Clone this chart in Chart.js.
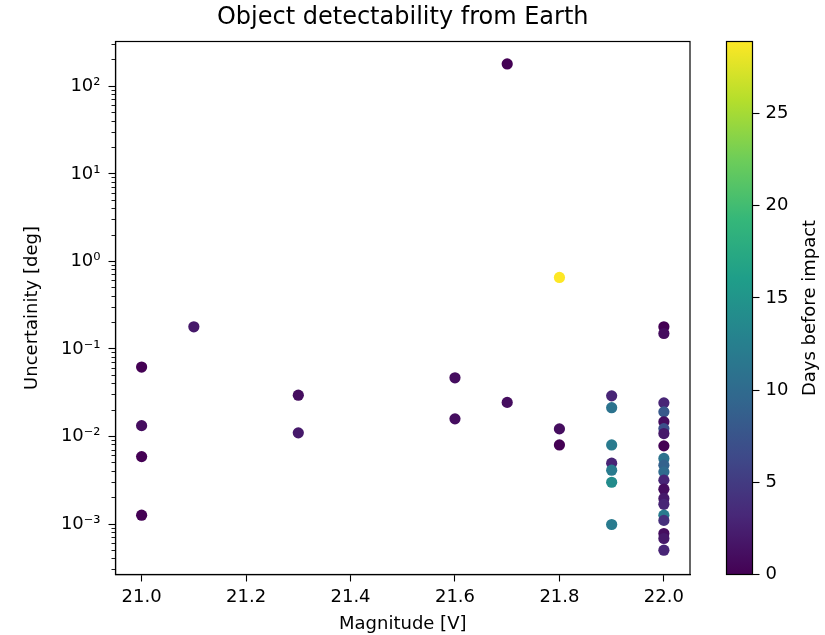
<!DOCTYPE html>
<html>
<head>
<meta charset="utf-8">
<script src="https://cdn.jsdelivr.net/npm/chart.js@4/dist/chart.umd.min.js"></script>
<style>
  body { margin: 0; background: #fff; }
  #wrap { position: relative; width: 825px; height: 635px; }
  #wrap canvas { position: absolute; top: 0; }
</style>
</head>
<body>
<div id="wrap">
  <canvas id="scatterChart" width="825" height="635" style="left:0"></canvas>
  <canvas id="colorbar" width="135" height="635" style="left:690px"></canvas>
</div>
<script>
// Données
const magnitude = [
  21.0, 21.0, 21.0, 21.0,
  21.1,
  21.3, 21.3,
  21.6, 21.6,
  21.7, 21.7,
  21.8, 21.8, 21.8,
  21.9, 21.9, 21.9, 21.9, 21.9, 21.9, 21.9,
  22.0, 22.0, 22.0, 22.0, 22.0, 22.0, 22.0, 22.0, 22.0, 22.0,
  22.0, 22.0, 22.0, 22.0, 22.0, 22.0, 22.0, 22.0, 22.0, 22.0
];
const uncertainty = [
  0.0621, 0.0133, 0.00589, 0.00126,
  0.179,
  0.0296, 0.0110,
  0.0468, 0.0159,
  180, 0.0245,
  0.656, 0.0122, 0.0080,
  0.0291, 0.0213, 0.0080, 0.00495, 0.00412, 0.00300, 0.000987,
  0.179, 0.150, 0.0242, 0.0191, 0.0147, 0.0123, 0.0108, 0.00781, 0.00561, 0.00470,
  0.00394, 0.00317, 0.00250, 0.00196, 0.00168, 0.00126, 0.00110, 0.000778, 0.000683, 0.000502
];
const daysBeforeImpact = [
  0, 1, 0, 0,
  2,
  1, 2,
  1, 1,
  0, 1,
  28.9, 1, 0,
  3, 11, 12, 3, 12, 14, 12,
  0, 1, 3, 8, 1, 7, 2, 0, 11, 9,
  10, 3, 1, 2, 3, 12, 4, 1, 2, 3
];
const xTicks = [21.0, 21.2, 21.4, 21.6, 21.8, 22.0];
const yMajorTicks = [1e-3, 1e-2, 1e-1, 1, 10, 100];
const cbarTicks = [0, 5, 10, 15, 20, 25];
const xMin = 20.95, xMax = 22.05;
const yMin = 2.65e-4, yMax = 325;

Chart.defaults.font.family = "'DejaVu Sans', sans-serif";
Chart.defaults.color = '#000';

// palette viridis
const viridis = ['#440154', '#482878', '#3e4a89', '#31688e', '#26828e',
                 '#1f9e89', '#35b779', '#6dcd59', '#b4de2c', '#fde725'];

function hexToRgb(h) {
  return [parseInt(h.slice(1, 3), 16), parseInt(h.slice(3, 5), 16), parseInt(h.slice(5, 7), 16)];
}

function viridisColor(t) {
  t = Math.max(0, Math.min(1, t));
  const pos = t * (viridis.length - 1);
  const i = Math.min(Math.floor(pos), viridis.length - 2);
  const f = pos - i;
  const a = hexToRgb(viridis[i]), b = hexToRgb(viridis[i + 1]);
  const c = a.map((v, k) => Math.round(v + (b[k] - v) * f));
  return `rgb(${c[0]}, ${c[1]}, ${c[2]})`;
}

const dayMax = Math.max(...daysBeforeImpact);
const pointColors = daysBeforeImpact.map(d => viridisColor(d / dayMax));
const points = magnitude.map((m, i) => ({ x: m, y: uncertainty[i] }));

// petites graduations du log
const yMinorTicks = [];
for (let k = -4; k <= 2; k++) {
  for (let m = 2; m <= 9; m++) {
    const v = m * Math.pow(10, k);
    if (v >= yMin && v <= yMax) yMinorTicks.push(v);
  }
}

const sup = { '-': '⁻', '0': '⁰', '1': '¹', '2': '²', '3': '³', '4': '⁴' };
function powLabel(v) {
  const e = Math.round(Math.log10(v));
  return '10' + String(e).split('').map(c => sup[c]).join('');
}

// cadre complet autour du graphe
const frame = {
  id: 'frame',
  afterDraw(chart) {
    const { ctx, chartArea: a } = chart;
    ctx.save();
    ctx.strokeStyle = '#000';
    ctx.lineWidth = 1.2;
    ctx.strokeRect(a.left, a.top, a.right - a.left, a.bottom - a.top);
    ctx.restore();
  }
};

new Chart(document.getElementById('scatterChart'), {
  type: 'scatter',
  data: {
    datasets: [{
      data: points,
      backgroundColor: pointColors,
      borderWidth: 0,
      pointRadius: 5.6,
      pointHoverRadius: 5.6
    }]
  },
  options: {
    responsive: false,
    animation: false,
    devicePixelRatio: 1,
    layout: { padding: { left: 0, top: 0, bottom: 0, right: 135 } },
    plugins: {
      legend: { display: false },
      tooltip: { enabled: false },
      title: {
        display: true,
        fullSize: false,
        text: 'Object detectability from Earth',
        color: '#000',
        font: { size: 24, weight: 'normal' },
        padding: { top: 3.6, bottom: 9.1 }
      }
    },
    scales: {
      x: {
        type: 'linear',
        min: xMin,
        max: xMax,
        afterBuildTicks: s => { s.ticks = xTicks.map(v => ({ value: v })); },
        afterFit: s => { s.height = 60.5; },
        ticks: { font: { size: 18 }, padding: 5, maxRotation: 0, callback: v => v.toFixed(1) },
        grid: { drawOnChartArea: false, tickLength: 7, color: '#000', tickWidth: 1.1 },
        border: { color: '#000', width: 1.2 },
        title: { display: true, text: 'Magnitude [V]', font: { size: 18 }, padding: { top: 0, bottom: 0 } }
      },
      y: {
        type: 'logarithmic',
        position: 'left',
        weight: 1,
        min: yMin,
        max: yMax,
        afterBuildTicks: s => { s.ticks = yMajorTicks.map(v => ({ value: v })); },
        afterFit: s => { s.width = 115.5; },
        ticks: { font: { size: 18 }, padding: 8, callback: v => powLabel(v) },
        grid: { drawOnChartArea: false, tickLength: 7, color: '#000', tickWidth: 1.1 },
        border: { color: '#000', width: 1.2 },
        title: { display: true, text: 'Uncertainity [deg]', font: { size: 18 }, padding: { top: 22, bottom: 0 } }
      },
      yMinor: {
        type: 'logarithmic',
        position: 'left',
        weight: 0,
        min: yMin,
        max: yMax,
        afterBuildTicks: s => { s.ticks = yMinorTicks.map(v => ({ value: v })); },
        afterFit: s => { s.width = 0; },
        ticks: { display: false },
        grid: { drawOnChartArea: false, tickLength: 4, color: '#000', tickWidth: 0.9 },
        border: { display: false }
      }
    }
  },
  plugins: [frame]
});

// barre de couleur
const colorbarPlugin = {
  id: 'colorbarFill',
  beforeDraw(chart) {
    const { ctx, chartArea: a } = chart;
    const g = ctx.createLinearGradient(0, a.bottom, 0, a.top);
    viridis.forEach((c, i) => g.addColorStop(i / (viridis.length - 1), c));
    ctx.save();
    ctx.fillStyle = g;
    ctx.fillRect(a.left, a.top, a.right - a.left, a.bottom - a.top);
    ctx.restore();
  },
  afterDraw(chart) {
    const { ctx, chartArea: a } = chart;
    ctx.save();
    ctx.strokeStyle = '#000';
    ctx.lineWidth = 1.2;
    ctx.strokeRect(a.left, a.top, a.right - a.left, a.bottom - a.top);
    ctx.translate(120, (a.top + a.bottom) / 2);
    ctx.rotate(-Math.PI / 2);
    ctx.fillStyle = '#000';
    ctx.font = "18px 'DejaVu Sans'";
    ctx.textAlign = 'center';
    ctx.textBaseline = 'middle';
    ctx.fillText('Days before impact', 0, 0);
    ctx.restore();
  }
};

new Chart(document.getElementById('colorbar'), {
  type: 'scatter',
  data: { datasets: [] },
  options: {
    responsive: false,
    animation: false,
    devicePixelRatio: 1,
    layout: { padding: { left: 36.5, top: 41.5, bottom: 60.5, right: 0 } },
    plugins: { legend: { display: false }, tooltip: { enabled: false } },
    scales: {
      x: { display: false },
      y: {
        position: 'right',
        min: 0,
        max: dayMax,
        afterBuildTicks: s => { s.ticks = cbarTicks.map(v => ({ value: v })); },
        afterFit: s => { s.width = 72.5; },
        ticks: { font: { size: 18 }, padding: 6, callback: v => String(v) },
        grid: { drawOnChartArea: false, tickLength: 7, color: '#000', tickWidth: 1.1 },
        border: { display: false }
      }
    }
  },
  plugins: [colorbarPlugin]
});
</script>
</body>
</html>
